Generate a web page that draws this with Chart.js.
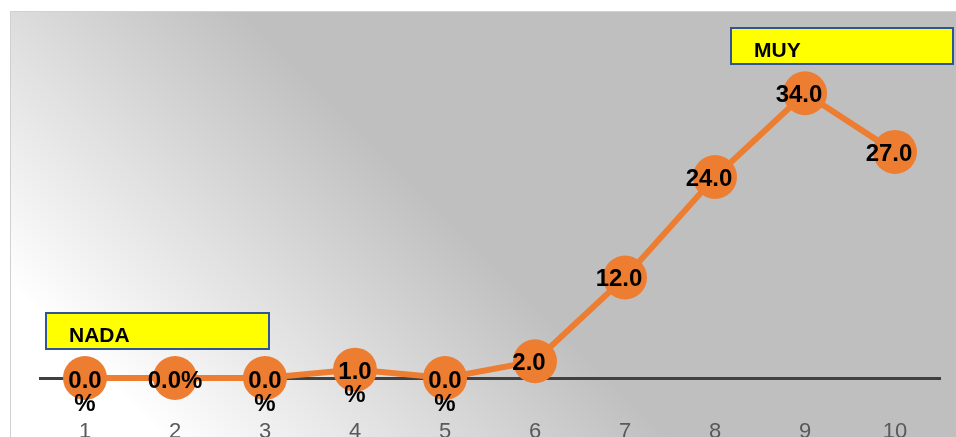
<!DOCTYPE html>
<html>
<head>
<meta charset="utf-8">
<script src="https://cdn.jsdelivr.net/npm/chart.js@4/dist/chart.umd.min.js"></script>
<style>
    html, body { margin: 0; padding: 0; background: #ffffff; overflow: hidden; }
    #wrap { width: 956px; height: 437px; overflow: hidden; }
</style>
</head>
<body>
<div id="wrap"><canvas id="lineChart" width="962" height="460"></canvas></div>
<script>
// Datos de la serie
const categories = ['1', '2', '3', '4', '5', '6', '7', '8', '9', '10'];
const values = [0, 0, 0, 1, 0, 2, 12, 24, 34, 27];
const suffixes = ['%', '%', '%', '%', '%', '', '', '', '', ''];
const wrapped = [true, false, true, true, true, false, false, false, false, false];

const ORANGE = '#ED7D31';
const FONT = "'Liberation Sans', Arial, sans-serif";

// Fondo degradado del área del gráfico
const bgPlugin = {
    id: 'bgGradient',
    beforeDraw(chart) {
        const c = chart.ctx;
        c.save();
        c.fillStyle = '#ffffff';
        c.fillRect(0, 0, chart.width, chart.height);
        const g = c.createLinearGradient(85, 362, 340, 107);
        g.addColorStop(0, '#ffffff');
        g.addColorStop(1, '#bfbfbf');
        c.fillStyle = g;
        c.fillRect(10, 11, chart.width - 10, chart.height - 11);
        c.strokeStyle = '#d0d0d0';
        c.lineWidth = 1;
        c.beginPath();
        c.moveTo(10.5, chart.height);
        c.lineTo(10.5, 11.5);
        c.lineTo(chart.width, 11.5);
        c.stroke();
        c.restore();
    }
};

// Etiquetas de datos sobre cada punto
const labelPlugin = {
    id: 'valueLabels',
    afterDatasetsDraw(chart) {
        const c = chart.ctx;
        const meta = chart.getDatasetMeta(0);
        c.save();
        c.font = 'bold 24px ' + FONT;
        c.fillStyle = '#000000';
        c.textAlign = 'center';
        c.textBaseline = 'middle';
        meta.data.forEach(function (pt, i) {
            const txt = values[i].toFixed(1);
            const sfx = suffixes[i];
            if (wrapped[i]) {
                c.fillText(txt, pt.x, pt.y + 3);
                c.fillText(sfx, pt.x, pt.y + 26);
            } else if (sfx) {
                c.fillText(txt + sfx, pt.x, pt.y + 3);
            } else {
                c.fillText(txt, pt.x - 6, pt.y + 2);
            }
        });
        c.restore();
    }
};

// Cuadros de texto amarillos
const boxPlugin = {
    id: 'textBoxes',
    afterDraw(chart) {
        const c = chart.ctx;
        const boxes = [
            { text: 'NADA', x: 46, y: 313, w: 223, h: 36 },
            { text: 'MUY', x: 731, y: 28, w: 222, h: 36 }
        ];
        c.save();
        boxes.forEach(function (b) {
            c.fillStyle = '#ffff00';
            c.fillRect(b.x, b.y, b.w, b.h);
            c.strokeStyle = '#2f5597';
            c.lineWidth = 2;
            c.strokeRect(b.x, b.y, b.w, b.h);
            c.fillStyle = '#000000';
            c.font = 'bold 21px ' + FONT;
            c.textAlign = 'left';
            c.textBaseline = 'middle';
            c.fillText(b.text, b.x + 23, b.y + 23);
        });
        c.restore();
    }
};

document.addEventListener('DOMContentLoaded', function () {
    const ctx = document.getElementById('lineChart').getContext('2d');
    new Chart(ctx, {
        type: 'line',
        data: {
            labels: categories,
            datasets: [{
                data: values,
                borderColor: ORANGE,
                borderWidth: 6,
                backgroundColor: ORANGE,
                pointRadius: 22,
                pointHoverRadius: 22,
                pointBackgroundColor: ORANGE,
                pointBorderWidth: 0,
                tension: 0,
                clip: false
            }]
        },
        options: {
            responsive: false,
            animation: false,
            events: [],
            layout: {
                padding: { left: 40, right: 22, top: 43, bottom: 0 }
            },
            plugins: {
                legend: { display: false },
                tooltip: { enabled: false }
            },
            scales: {
                x: {
                    offset: true,
                    grid: { display: false, offset: true },
                    border: { display: true, color: '#404040', width: 3 },
                    ticks: {
                        color: '#595959',
                        font: { family: FONT, size: 22 },
                        padding: 33,
                        maxRotation: 0
                    },
                    afterFit: function (scale) {
                        scale.height = 82;
                        scale.paddingLeft = 0;
                        scale.paddingRight = 0;
                    }
                },
                y: {
                    display: false,
                    min: 0,
                    max: 40
                }
            }
        },
        plugins: [bgPlugin, labelPlugin, boxPlugin]
    });
});
</script>
</body>
</html>
